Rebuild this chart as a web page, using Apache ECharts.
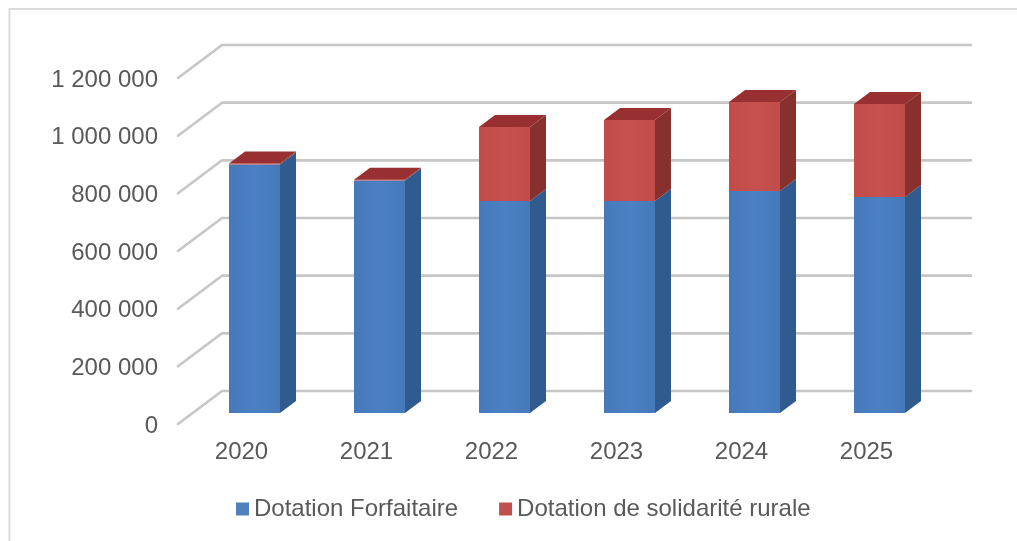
<!DOCTYPE html>
<html>
<head>
<meta charset="utf-8">
<title>Dotations</title>
<style>
  html, body { margin: 0; padding: 0; background: #fff; }
  #chart { width: 1017px; height: 541px; }
</style>
<script src="https://cdn.jsdelivr.net/npm/echarts@6/dist/echarts.min.js"></script>
</head>
<body>
<div id="chart"></div>
<script>
const years = ['2020', '2021', '2022', '2023', '2024', '2025'];
const forfaitaire = [862000, 806000, 735000, 735000, 770000, 749000];
const solidarite = [3000, 3000, 257000, 281000, 309000, 323000];
const yTicks = [0, 200000, 400000, 600000, 800000, 1000000, 1200000];

const WALL_DX = 44, WALL_DY = 33;      // depth of the fake 3D floor
const BAR_DX = 16, BAR_DY = 12;        // depth of one bar
const BAR_OFFSET_X = 14, BAR_OFFSET_Y = 11;
const BAR_HALF = 25.5;

const myChart = echarts.init(document.getElementById('chart'));

function renderWall(params, api) {
  const y = api.coord([0, api.value(1)])[1];
  const left = params.coordSys.x;
  const right = left + params.coordSys.width;
  return {
    type: 'polyline',
    shape: { points: [[left, y], [left + WALL_DX, y - WALL_DY], [right + WALL_DX - 1, y - WALL_DY]] },
    style: { stroke: '#c6c6c6', lineWidth: 2.6, fill: null, lineCap: 'round', lineJoin: 'round' }
  };
}

function barRenderer(frontColors, sideColor, topColor) {
  return function (params, api) {
    const idx = api.value(0);
    const cx = api.coord([idx, 0])[0] + BAR_OFFSET_X;
    const y0 = api.coord([idx, api.value(1)])[1] - BAR_OFFSET_Y;
    const y1 = api.coord([idx, api.value(2)])[1] - BAR_OFFSET_Y;
    const l = cx - BAR_HALF, r = cx + BAR_HALF;
    const children = [
      {
        type: 'polygon',
        shape: { points: [[r, y0], [r + BAR_DX, y0 - BAR_DY], [r + BAR_DX, y1 - BAR_DY], [r, y1]] },
        style: { fill: sideColor }
      },
      {
        type: 'rect',
        shape: { x: l, y: y1, width: r - l, height: y0 - y1 },
        style: {
          fill: new echarts.graphic.LinearGradient(0, 0, 1, 0, [
            { offset: 0, color: frontColors[0] },
            { offset: 0.5, color: frontColors[1] },
            { offset: 1, color: frontColors[0] }
          ])
        }
      }
    ];
    // only the top of the stack shows its lid
    if (topColor) {
      children.push({
        type: 'polygon',
        shape: { points: [[l, y1], [r, y1], [r + BAR_DX, y1 - BAR_DY], [l + BAR_DX, y1 - BAR_DY]] },
        style: { fill: topColor }
      });
    }
    return { type: 'group', children: children };
  };
}

const option = {
  backgroundColor: '#fff',
  animation: false,
  graphic: [{
    type: 'polyline',
    silent: true,
    shape: { points: [[9.5, 541], [9.5, 9], [1017, 9]] },
    style: { stroke: '#dcdcdc', lineWidth: 2, fill: null }
  }],
  legend: {
    data: ['Dotation Forfaitaire', 'Dotation de solidarité rurale'],
    left: 231,
    top: 492,
    icon: 'rect',
    itemWidth: 13,
    itemHeight: 13,
    itemGap: 41,
    textStyle: { color: '#595959', fontSize: 24, fontFamily: 'Liberation Sans' }
  },
  grid: { left: 178, right: 89, top: 78, bottom: 117 },
  xAxis: {
    type: 'category',
    data: years,
    axisLine: { show: false },
    axisTick: { show: false },
    axisLabel: { color: '#595959', fontSize: 24, fontFamily: 'Liberation Sans', margin: 16, padding: [0, 0, 0, 2] }
  },
  yAxis: {
    type: 'value',
    min: 0,
    max: 1200000,
    interval: 200000,
    axisLine: { show: false },
    axisTick: { show: false },
    splitLine: { show: false },
    axisLabel: {
      color: '#595959',
      fontSize: 24,
      fontFamily: 'Liberation Sans',
      margin: 20,
      verticalAlign: 'top',
      lineHeight: 4,
      formatter: v => String(v).replace(/\B(?=(\d{3})+$)/g, ' ')
    }
  },
  series: [
    {
      type: 'custom',
      name: 'walls',
      silent: true,
      clip: false,
      z: 1,
      renderItem: renderWall,
      encode: { x: 0, y: 1 },
      data: yTicks.map(v => [0, v])
    },
    {
      type: 'custom',
      name: 'Dotation Forfaitaire',
      clip: false,
      z: 2,
      itemStyle: { color: '#4f81bd' },
      renderItem: barRenderer(['#4679ba', '#4b80c2'], '#2f5b8f', null),
      encode: { x: 0, y: 2 },
      data: years.map((y, i) => [i, 0, forfaitaire[i]])
    },
    {
      type: 'custom',
      name: 'Dotation de solidarité rurale',
      clip: false,
      z: 3,
      itemStyle: { color: '#c0504d' },
      renderItem: barRenderer(['#c14c4a', '#c6514e'], '#87302e', '#982f31'),
      encode: { x: 0, y: 2 },
      data: years.map((y, i) => [i, forfaitaire[i], forfaitaire[i] + solidarite[i]])
    }
  ]
};

myChart.setOption(option);
</script>
</body>
</html>
